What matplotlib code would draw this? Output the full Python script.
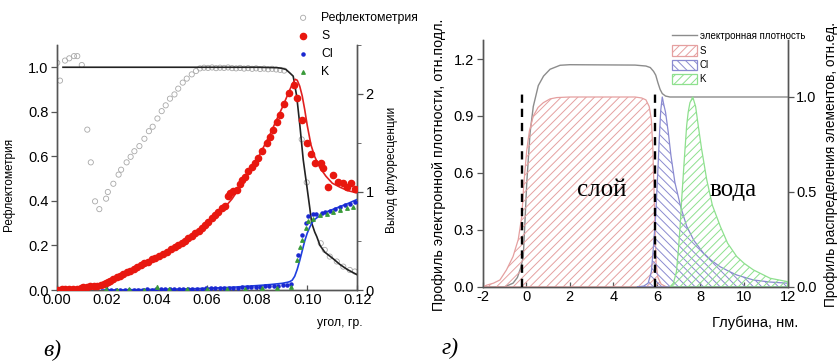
import numpy as np
import matplotlib.pyplot as plt
from matplotlib.ticker import MultipleLocator

plt.rcParams['font.family'] = ['Liberation Sans', 'DejaVu Sans']
plt.rcParams['hatch.linewidth'] = 0.7
plt.rcParams['axes.unicode_minus'] = False

# ==========================================
# в) угловые зависимости: рефлектометрия + выход флуоресценции
# ==========================================
refl_angle = [0.0002, 0.0013, 0.0033, 0.0050, 0.0069, 0.0082, 0.0100, 0.0122, 0.0136, 0.0153,
              0.0170, 0.0197, 0.0204, 0.0226, 0.0247, 0.0257, 0.0279, 0.0295, 0.0310, 0.0330,
              0.0350, 0.0368, 0.0383, 0.0402, 0.0419, 0.0435, 0.0452, 0.0470, 0.0485, 0.0503,
              0.0519, 0.0539, 0.0556, 0.0572, 0.0588, 0.0604, 0.0620, 0.0636, 0.0652, 0.0668,
              0.0684, 0.0700, 0.0716, 0.0732, 0.0748, 0.0764, 0.0780, 0.0796, 0.0812, 0.0828,
              0.0844, 0.0860, 0.0876, 0.0892, 0.0908, 0.0978, 0.0998, 0.1054, 0.1070, 0.1090,
              0.1118, 0.1144, 0.1170, 0.1190]
refl_value = [1.02, 0.94, 1.03, 1.04, 1.05, 1.05, 1.01, 0.72, 0.573, 0.398,
              0.363, 0.41, 0.44, 0.477, 0.518, 0.54, 0.573, 0.598, 0.623, 0.646,
              0.679, 0.713, 0.733, 0.770, 0.803, 0.829, 0.859, 0.878, 0.904, 0.931,
              0.949, 0.968, 0.983, 0.995, 0.998, 0.997, 0.999, 0.996, 0.998, 0.997,
              0.999, 0.996, 0.995, 0.997, 0.994, 0.996, 0.993, 0.995, 0.992, 0.994,
              0.991, 0.993, 0.990, 0.988, 0.985, 0.676, 0.483, 0.21, 0.18, 0.15,
              0.128, 0.105, 0.09, 0.083]

refl_fit_angle = [0.0025, 0.0200, 0.0400, 0.0600, 0.0800, 0.0880, 0.0900, 0.0915, 0.0930, 0.0944,
                  0.0958, 0.0971, 0.0984, 0.0998, 0.1010, 0.1018, 0.1030, 0.1038, 0.1051, 0.1070,
                  0.1104, 0.1130, 0.1160, 0.1200]
refl_fit_value = [1.0, 1.0, 1.0, 1.0, 1.0, 0.998, 0.995, 0.99, 0.975, 0.96,
                  0.87, 0.735, 0.585, 0.47, 0.37, 0.30, 0.26, 0.24, 0.20, 0.17,
                  0.14, 0.115, 0.092, 0.068]

s_angle = [0.0005, 0.0020, 0.0035, 0.0050, 0.0065, 0.0080, 0.0095, 0.0106, 0.0120, 0.0133,
           0.0147, 0.0160, 0.0175, 0.0188, 0.0197, 0.0205, 0.0213, 0.0225, 0.0240, 0.0253,
           0.0266, 0.0280, 0.0293, 0.0307, 0.0322, 0.0335, 0.0349, 0.0364, 0.0379, 0.0394,
           0.0410, 0.0425, 0.0439, 0.0455, 0.0472, 0.0485, 0.0499, 0.0512, 0.0525, 0.0539,
           0.0552, 0.0566, 0.0579, 0.0592, 0.0605, 0.0618, 0.0632, 0.0645, 0.0659, 0.0672,
           0.0685, 0.0692, 0.0705, 0.0719, 0.0730, 0.0741, 0.0752, 0.0765, 0.0778, 0.0790,
           0.0802, 0.0818, 0.0838, 0.0850, 0.0862, 0.0878, 0.0891, 0.0909, 0.0927, 0.0949,
           0.0960, 0.0978, 0.0998, 0.1014, 0.1031, 0.1054, 0.1064, 0.1084, 0.1104, 0.1124,
           0.1144, 0.1158, 0.1174, 0.1190]
s_yield = [0.005, 0.008, 0.010, 0.010, 0.012, 0.015, 0.018, 0.027, 0.030, 0.040,
           0.042, 0.044, 0.050, 0.060, 0.075, 0.085, 0.095, 0.110, 0.130, 0.145,
           0.163, 0.180, 0.197, 0.215, 0.238, 0.255, 0.272, 0.290, 0.313, 0.330,
           0.347, 0.370, 0.391, 0.415, 0.442, 0.460, 0.483, 0.505, 0.527, 0.550,
           0.578, 0.600, 0.629, 0.660, 0.697, 0.730, 0.765, 0.800, 0.833, 0.860,
           0.960, 0.986, 1.010, 1.020, 1.080, 1.120, 1.156, 1.210, 1.258, 1.300,
           1.350, 1.420, 1.500, 1.560, 1.630, 1.710, 1.790, 1.900, 2.010, 2.090,
           1.960, 1.730, 1.500, 1.390, 1.300, 1.300, 1.240, 1.050, 1.170, 1.105,
           1.095, 1.054, 1.095, 1.030]

s_fit_angle = [0.0080, 0.0120, 0.0160, 0.0200, 0.0250, 0.0300, 0.0350, 0.0400, 0.0450, 0.0500,
               0.0550, 0.0600, 0.0650, 0.0700, 0.0750, 0.0800, 0.0850, 0.0880, 0.0900, 0.0920,
               0.0935, 0.0945, 0.0952, 0.0960, 0.0970, 0.0980, 0.0990, 0.1000, 0.1015, 0.1030,
               0.1050, 0.1075, 0.1100, 0.1130, 0.1160, 0.1200]
s_fit_yield = [0.000, 0.015, 0.035, 0.065, 0.130, 0.200, 0.270, 0.340, 0.420, 0.490,
               0.575, 0.670, 0.780, 0.930, 1.120, 1.330, 1.580, 1.750, 1.860, 1.980,
               2.070, 2.120, 2.150, 2.140, 2.080, 1.980, 1.840, 1.680, 1.480, 1.360,
               1.250, 1.160, 1.090, 1.050, 1.015, 0.990]

cl_angle = [0.0200, 0.0218, 0.0236, 0.0254, 0.0272, 0.0290, 0.0308, 0.0326, 0.0344, 0.0362,
            0.0380, 0.0398, 0.0416, 0.0434, 0.0452, 0.0470, 0.0488, 0.0506, 0.0524, 0.0542,
            0.0560, 0.0578, 0.0596, 0.0614, 0.0632, 0.0650, 0.0668, 0.0686, 0.0704, 0.0722,
            0.0740, 0.0758, 0.0776, 0.0794, 0.0812, 0.0830, 0.0848, 0.0866, 0.0884, 0.0902,
            0.0920, 0.0935, 0.0962, 0.0978, 0.0995, 0.1004, 0.1022, 0.1036, 0.1058, 0.1071,
            0.1090, 0.1110, 0.1130, 0.1151, 0.1170, 0.1190]
cl_yield = [0.000, 0.002, 0.001, 0.003, 0.002, 0.004, 0.003, 0.005, 0.004, 0.006,
            0.005, 0.007, 0.008, 0.006, 0.009, 0.010, 0.009, 0.012, 0.011, 0.013,
            0.014, 0.013, 0.016, 0.017, 0.018, 0.020, 0.019, 0.022, 0.024, 0.023,
            0.026, 0.028, 0.030, 0.031, 0.034, 0.036, 0.038, 0.041, 0.044, 0.048,
            0.055, 0.061, 0.357, 0.560, 0.680, 0.760, 0.776, 0.780, 0.790, 0.800,
            0.810, 0.825, 0.845, 0.870, 0.880, 0.895]

cl_fit_angle = [0.0180, 0.0300, 0.0400, 0.0500, 0.0600, 0.0700, 0.0800, 0.0850, 0.0900, 0.0920,
                0.0930, 0.0940, 0.0950, 0.0960, 0.0970, 0.0980, 0.0990, 0.1000, 0.1010, 0.1020,
                0.1030, 0.1040, 0.1060, 0.1080, 0.1100, 0.1130, 0.1160, 0.1200]
cl_fit_yield = [0.000, 0.003, 0.006, 0.010, 0.017, 0.028, 0.045, 0.055, 0.068, 0.078,
                0.085, 0.100, 0.140, 0.210, 0.300, 0.400, 0.500, 0.580, 0.640, 0.690,
                0.720, 0.740, 0.775, 0.800, 0.820, 0.850, 0.880, 0.925]

k_angle = [0.0197, 0.0240, 0.0290, 0.0350, 0.0399, 0.0450, 0.0520, 0.0600, 0.0680, 0.0750,
           0.0820, 0.0880, 0.0935, 0.0958, 0.0971, 0.0978, 0.0995, 0.1004, 0.1024, 0.1051,
           0.1078, 0.1104, 0.1130, 0.1158, 0.1184]
k_yield = [0.010, 0.004, 0.006, 0.005, 0.030, 0.006, 0.008, 0.010, 0.012, 0.015,
           0.018, 0.022, 0.030, 0.306, 0.440, 0.510, 0.630, 0.700, 0.720, 0.765,
           0.780, 0.800, 0.820, 0.833, 0.850]

# ==========================================
# г) профили по глубине
# ==========================================
dens_depth = [-2.0, -1.0, -0.6, -0.4, -0.25, -0.13, -0.05, 0.03, 0.18, 0.33,
              0.56, 0.80, 1.10, 1.56, 2.0, 5.0, 5.5, 5.7, 5.85, 5.95,
              6.05, 6.15, 6.25, 6.4, 6.6, 12.0]
dens_value = [0.0, 0.0, 0.02, 0.05, 0.10, 0.16, 0.35, 0.548, 0.81, 0.95,
              1.06, 1.11, 1.146, 1.167, 1.17, 1.168, 1.163, 1.155, 1.135, 1.115,
              1.075, 1.04, 1.018, 1.005, 1.0, 1.0]

s_depth = [-2.0, -1.8, -1.5, -1.2, -0.9, -0.6, -0.36, -0.2, -0.1, 0.03,
           0.15, 0.33, 0.55, 0.79, 1.1, 1.41, 2.0, 5.0, 5.3, 5.5,
           5.65, 5.75, 5.82, 5.87, 5.92, 5.97, 6.05, 6.2, 6.45]
s_profile = [0.0, 0.01, 0.02, 0.037, 0.09, 0.16, 0.25, 0.37, 0.55, 0.72,
             0.82, 0.90, 0.945, 0.97, 0.99, 0.997, 1.0, 1.0, 0.995, 0.985,
             0.95, 0.88, 0.72, 0.52, 0.30, 0.12, 0.05, 0.015, 0.0]

cl_depth = [5.1, 5.4, 5.6, 5.75, 5.85, 5.95, 6.05, 6.12, 6.18, 6.25,
            6.32, 6.4, 6.53, 6.65, 6.83, 7.1, 7.37, 7.7, 8.13, 8.5,
            8.9, 9.3, 9.67, 10.43, 11.2, 12.0]
cl_profile = [0.0, 0.005, 0.02, 0.08, 0.22, 0.38, 0.62, 0.80, 0.93, 1.0,
              0.96, 0.92, 0.81, 0.69, 0.55, 0.42, 0.32, 0.245, 0.18, 0.14,
              0.107, 0.083, 0.063, 0.037, 0.026, 0.02]

k_depth = [6.6, 6.76, 6.9, 6.99, 7.07, 7.14, 7.22, 7.29, 7.37, 7.44,
           7.52, 7.65, 7.78, 7.9, 8.05, 8.29, 8.55, 8.91, 9.25, 9.67,
           10.0, 10.43, 11.2, 12.0]
k_profile = [0.0, 0.02, 0.08, 0.195, 0.32, 0.46, 0.60, 0.72, 0.85, 0.92,
             0.97, 1.0, 0.95, 0.85, 0.73, 0.565, 0.43, 0.32, 0.23, 0.16,
             0.125, 0.09, 0.046, 0.028]

boundary_depth = [-0.17, 5.92]
boundary_top = 1.023

fig = plt.figure(figsize=(8.38, 3.63), dpi=100)
spine_col = '#555555'


def style_axes(ax):
    ax.spines['top'].set_visible(False)
    for s in ax.spines.values():
        s.set_color(spine_col)
        s.set_linewidth(1.0)
    ax.tick_params(axis='y', direction='out', length=4, width=0.9, color=spine_col,
                   labelsize=10.5, pad=2)
    ax.tick_params(axis='x', direction='in', length=3.5, width=0.9, color=spine_col,
                   labelsize=10.5, pad=2)


# ---------------- панель в) ----------------
ax1 = fig.add_axes([0.0677, 0.2011, 0.3587, 0.675])
ax1r = ax1.twinx()
style_axes(ax1)
style_axes(ax1r)

h_refl = ax1.scatter(refl_angle, refl_value, s=14, facecolors='none', edgecolors='#a8a8a8',
                     linewidths=0.6, label='Рефлектометрия', zorder=2)
ax1.plot(refl_fit_angle, refl_fit_value, color='#222222', lw=1.2, zorder=3)
ax1.set_xlim(0, 0.12)
ax1.set_ylim(0, 1.1)
ax1.xaxis.set_major_locator(MultipleLocator(0.02))
ax1.yaxis.set_major_locator(MultipleLocator(0.2))
ax1.xaxis.set_major_formatter(plt.FormatStrFormatter('%.2f'))
ax1.yaxis.set_major_formatter(plt.FormatStrFormatter('%.1f'))
ax1.set_ylabel('Рефлектометрия', fontsize=8.5)
ax1.yaxis.set_label_coords(-0.139, 0.43)

h_s = ax1r.scatter(s_angle, s_yield, s=20, color='#e8170f', label='S', zorder=3)
ax1r.plot(s_fit_angle, s_fit_yield, color='#e02020', lw=1.2, zorder=2)
h_cl = ax1r.scatter(cl_angle, cl_yield, s=5, color='#1a28d0', label='Cl', zorder=4)
ax1r.plot(cl_fit_angle, cl_fit_yield, color='#2040e0', lw=1.2, zorder=3)
h_k = ax1r.scatter(k_angle, k_yield, s=6, marker='^', color='#3a9a3a', label='K', zorder=4)
ax1r.set_ylim(0, 2.5)
ax1r.yaxis.set_major_locator(MultipleLocator(1))
ax1r.yaxis.set_minor_locator(MultipleLocator(0.5))
ax1r.tick_params(axis='y', which='minor', direction='out', length=3, color=spine_col)
ax1r.set_ylabel('Выход флуоресценции', fontsize=8.5)
ax1r.yaxis.set_label_coords(1.094, 0.49)

fig.text(340 / 838, 1 - 323 / 363, 'угол, гр.', fontsize=8.8, ha='center', va='center')
fig.legend([h_refl, h_s, h_cl, h_k], ['Рефлектометрия', 'S', 'Cl', 'K'],
           loc='upper left', bbox_to_anchor=(297 / 838, 1 - 12 / 363), frameon=False,
           fontsize=8.8, handlelength=1.0, handletextpad=1.0, labelspacing=0.5,
           borderpad=0, borderaxespad=0, scatterpoints=1)
fig.text(52 / 838, 1 - 350 / 363, 'в)', fontsize=17, style='italic',
         family='Liberation Serif', ha='center', va='center')

# ---------------- панель г) ----------------
ax2 = fig.add_axes([0.5758, 0.2094, 0.364, 0.6804])
ax2r = ax2.twinx()
style_axes(ax2)
style_axes(ax2r)

h_dens, = ax2.plot(dens_depth, dens_value, color='#8c8c8c', lw=1.0, zorder=4,
                   label='электронная плотность')
ax2.set_xlim(-2, 12)
ax2.set_ylim(0, 1.3)
ax2.xaxis.set_major_locator(MultipleLocator(2))
ax2.yaxis.set_major_locator(MultipleLocator(0.3))
ax2.yaxis.set_major_formatter(plt.FormatStrFormatter('%.1f'))
ax2.set_ylabel('Профиль электронной плотности, отн.подл.', fontsize=10.3)
ax2.yaxis.set_label_coords(-0.121, 0.494)

h_sf = ax2r.fill_between(s_depth, s_profile, facecolor='none', edgecolor='#e5a0a0',
                         hatch='////', lw=0.9, label='S')
h_clf = ax2r.fill_between(cl_depth, cl_profile, facecolor='none', edgecolor='#8a8ad0',
                          hatch='\\\\\\\\', lw=0.9, label='Cl')
h_kf = ax2r.fill_between(k_depth, k_profile, facecolor='none', edgecolor='#8ee08e',
                         hatch='////', lw=0.9, label='K')
for xb in boundary_depth:
    ax2r.plot([xb, xb], [0, boundary_top], color='black', lw=1.7, ls=(0, (3.5, 2.5)), zorder=5)
ax2r.set_ylim(0, 1.3)
ax2r.yaxis.set_major_locator(MultipleLocator(0.5))
ax2r.yaxis.set_major_formatter(plt.FormatStrFormatter('%.1f'))
ax2r.set_ylabel('Профиль распределения элементов, отн.ед.', fontsize=9.8)
ax2r.yaxis.set_label_coords(1.12, 0.494)

ax2r.text(3.47, 0.512, 'слой', fontsize=18, family='Liberation Serif', ha='center', va='center')
ax2r.text(9.51, 0.512, 'вода', fontsize=18, family='Liberation Serif', ha='center', va='center')

fig.text(755 / 838, 1 - 323 / 363, 'Глубина, нм.', fontsize=10.5, ha='center', va='center')
fig.legend([h_dens, h_sf, h_clf, h_kf], ['электронная плотность', 'S', 'Cl', 'K'],
           loc='upper left', bbox_to_anchor=(672 / 838, 1 - 31 / 363), frameon=False,
           fontsize=7, handlelength=2.6, handleheight=1.25, handletextpad=0.25,
           labelspacing=0.4, borderpad=0, borderaxespad=0)
fig.text(450 / 838, 1 - 348 / 363, 'г)', fontsize=17, style='italic',
         family='Liberation Serif', ha='center', va='center')

fig.savefig('out.png', dpi=100)
